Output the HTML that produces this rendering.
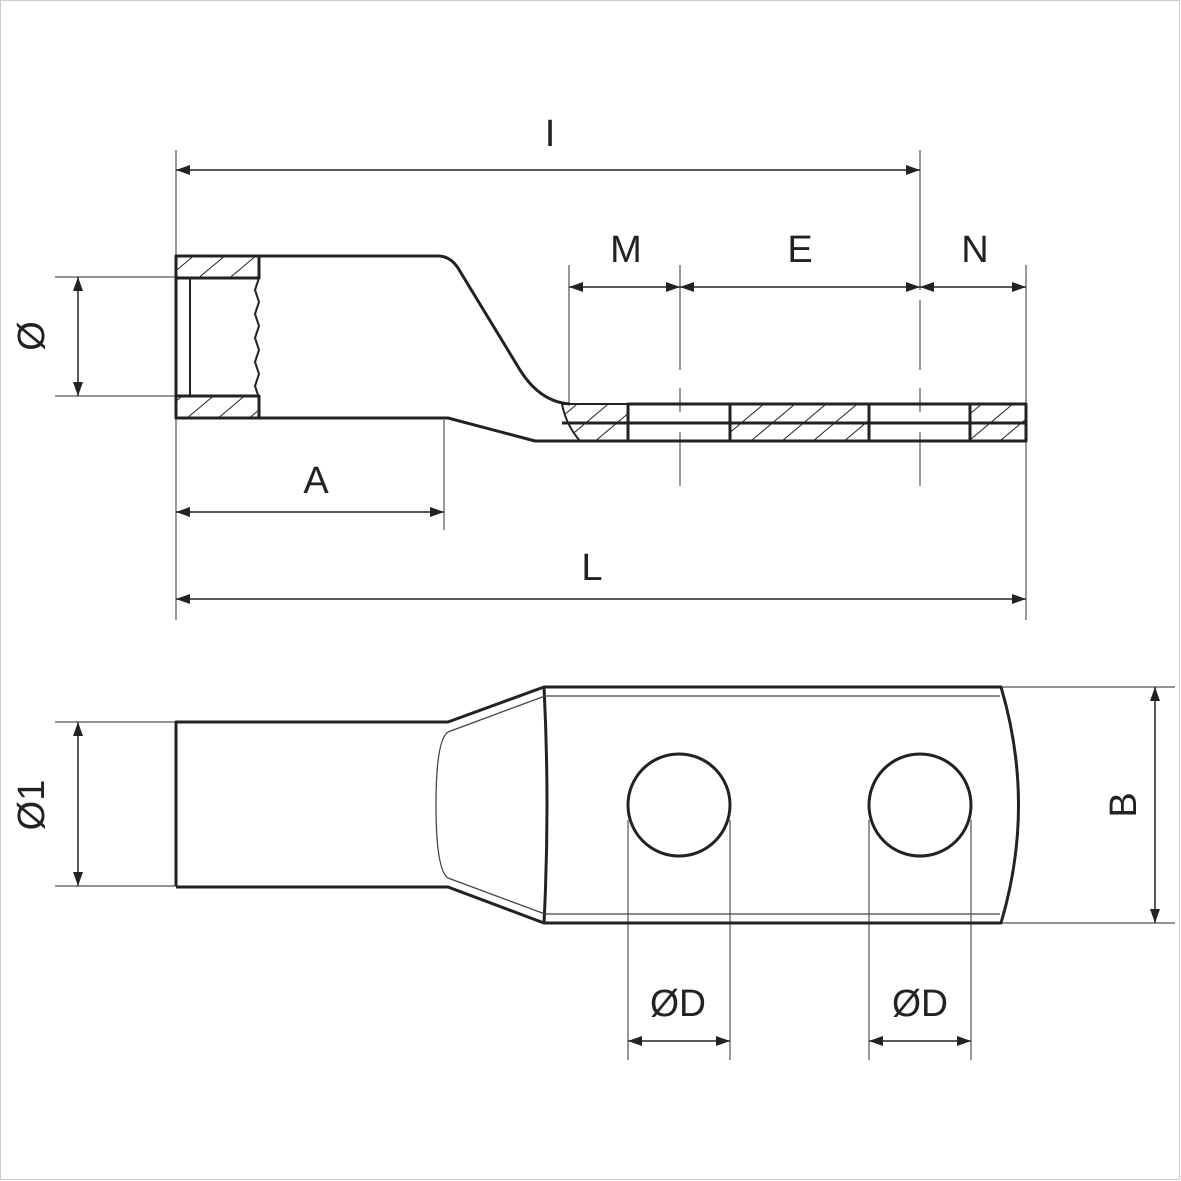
<!DOCTYPE html>
<html><head><style>html,body{margin:0;padding:0;background:#fff}svg{display:block}</style></head>
<body>
<svg width="1181" height="1181" viewBox="0 0 1181 1181" xmlns="http://www.w3.org/2000/svg">
<defs>
<pattern id="h" patternUnits="userSpaceOnUse" width="20" height="20" patternTransform="rotate(50)">
<line x1="0" y1="0" x2="0" y2="20" stroke="#222" stroke-width="2"/>
</pattern>
<marker id="a" viewBox="0 0 14 10" refX="14" refY="5" markerWidth="14" markerHeight="10" markerUnits="userSpaceOnUse" orient="auto-start-reverse"><path d="M0,0 L14,5 L0,10 z" fill="#222"/></marker>
</defs>
<rect x="0.5" y="0.5" width="1179" height="1179" fill="none" stroke="#ccc" stroke-width="1"/>
<g font-family="Liberation Sans, sans-serif" font-size="38" fill="#222" text-anchor="middle">
<text x="550" y="146">I</text>
<text x="626" y="262">M</text>
<text x="800" y="262">E</text>
<text x="975" y="262">N</text>
<text x="316" y="493">A</text>
<text x="592" y="580">L</text>
<text x="678" y="1016" textLength="56" lengthAdjust="spacingAndGlyphs">ØD</text>
<text x="920" y="1016" textLength="56" lengthAdjust="spacingAndGlyphs">ØD</text>
<text transform="translate(44,336) rotate(-90)">Ø</text>
<text transform="translate(44,805) rotate(-90)">Ø1</text>
<text transform="translate(1136,805) rotate(-90)">B</text>
</g>
<g stroke="#555" stroke-width="1.2" fill="none">
<line x1="176" y1="150" x2="176" y2="620"/>
<line x1="920" y1="150" x2="920" y2="290"/>
<line x1="569" y1="265" x2="569" y2="404"/>
<line x1="680" y1="265" x2="680" y2="370"/>
<line x1="920" y1="300" x2="920" y2="370"/>
<line x1="1026" y1="265" x2="1026" y2="620"/>
<line x1="444" y1="420" x2="444" y2="530"/>
<line x1="55" y1="277" x2="180" y2="277"/>
<line x1="55" y1="396" x2="180" y2="396"/>
<line x1="55" y1="722" x2="176" y2="722"/>
<line x1="55" y1="886" x2="176" y2="886"/>
<line x1="1000" y1="687" x2="1175" y2="687"/>
<line x1="1000" y1="923" x2="1175" y2="923"/>
<line x1="628" y1="820" x2="628" y2="1060"/>
<line x1="730" y1="820" x2="730" y2="1060"/>
<line x1="869" y1="820" x2="869" y2="1060"/>
<line x1="971" y1="820" x2="971" y2="1060"/>
<line x1="680" y1="388" x2="680" y2="412"/><line x1="680" y1="432" x2="680" y2="486"/>
<line x1="920" y1="388" x2="920" y2="412"/><line x1="920" y1="432" x2="920" y2="486"/>
</g>
<g stroke="#222" stroke-width="1.5" marker-start="url(#a)" marker-end="url(#a)">
<line x1="176" y1="170" x2="920" y2="170"/>
<line x1="569" y1="287" x2="680" y2="287"/>
<line x1="680" y1="287" x2="920" y2="287"/>
<line x1="920" y1="287" x2="1026" y2="287"/>
<line x1="176" y1="512" x2="444" y2="512"/>
<line x1="176" y1="599" x2="1026" y2="599"/>
<line x1="78" y1="277" x2="78" y2="396"/>
<line x1="78" y1="722" x2="78" y2="886"/>
<line x1="1155" y1="687" x2="1155" y2="923"/>
<line x1="628" y1="1041" x2="730" y2="1041"/>
<line x1="869" y1="1041" x2="971" y2="1041"/>
</g>
<g stroke="#222" stroke-width="3" fill="none" stroke-linejoin="round">
<rect x="176" y="256" width="83" height="22" fill="url(#h)"/>
<rect x="176" y="396" width="83" height="22" fill="url(#h)"/>
<rect x="628" y="404" width="102" height="37" fill="none"/>
<rect x="730" y="404" width="139" height="37" fill="url(#h)"/>
<rect x="869" y="404" width="101" height="37" fill="none"/>
<rect x="970" y="404" width="56" height="37" fill="url(#h)"/>
<path d="M562,404 L628,404 L628,441 L580,441 Q566,425 562,404 Z" fill="url(#h)" stroke-width="2"/>
<line x1="562" y1="423" x2="1026" y2="423"/>
<path d="M176,256 L438,256 Q450,256 458,268 L520,370 Q540,402 570,404"/>
<path d="M176,418 L448,418 L535,441 L1026,441"/>
<line x1="176" y1="256" x2="176" y2="418"/>
<line x1="190" y1="278" x2="190" y2="396" stroke-width="2"/>
<path d="M259,278 l-4,12 4,12 -4,12 4,12 -4,12 4,12 -4,12 4,12 -4,12 4,12" stroke-width="2"/>
</g>
<g stroke="#222" stroke-width="3" fill="none" stroke-linejoin="round">
<path d="M176,886 L176,722 L448,722 L544,687 L1001,687 Q1036,805 1001,923 L544,923 L448,887 L176,887"/>
<path d="M544,687 Q550,805 544,923"/>
<circle cx="679" cy="805" r="51"/>
<circle cx="920" cy="805" r="51"/>
</g>
<g stroke="#444" stroke-width="1.3" fill="none">
<path d="M545,696 L448,732 Q436,740 436,805 Q436,870 448,878 L545,914"/>
<line x1="546" y1="696" x2="1000" y2="696"/>
<line x1="546" y1="914" x2="1000" y2="914"/>
</g>
</svg>
</body></html>
